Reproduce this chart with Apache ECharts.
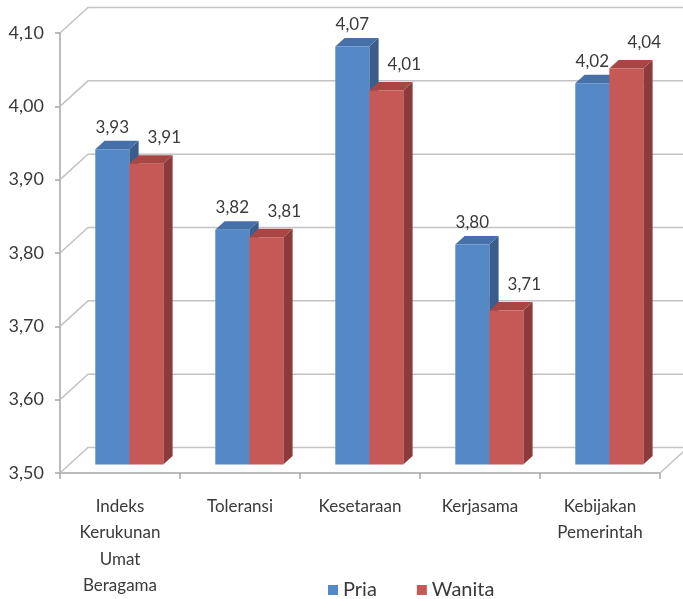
<!DOCTYPE html>
<html>
<head>
<meta charset="utf-8">
<script src="https://cdn.jsdelivr.net/npm/echarts@6/dist/echarts.min.js"></script>
<style>
  html, body { margin: 0; padding: 0; background: #fff; }
  #chart { width: 683px; height: 599px; }
</style>
</head>
<body>
<div id="chart"></div>
<script>
// Survey indices by gender
const categories = ['Indeks\nKerukunan\nUmat\nBeragama', 'Toleransi', 'Kesetaraan', 'Kerjasama', 'Kebijakan\nPemerintah'];
const pria = [3.93, 3.82, 4.07, 3.80, 4.02];
const wanita = [3.91, 3.81, 4.01, 3.71, 4.04];
const yTicks = [3.5, 3.6, 3.7, 3.8, 3.9, 4.0, 4.1];

const FONT = 'Lato, "Open Sans", sans-serif';
const TEXT = '#3a3a3a';
const GRID = '#c3c3c3';
const AXIS = '#a6a6a6';

// oblique depth of the floor / back wall
const DEPTH_X = 28, DEPTH_Y = -25.5;
// bar block: front plane offset and its own depth
const FRONT_X = 9.3, FRONT_Y = -8.5;
const BAR_DX = 9.3, BAR_DY = -8.5;
const BAR_W = 34;

const fmt = v => v.toFixed(2).replace('.', ',');

const palettes = [
  { front: '#5588c6', side: '#3b5d8c', top: '#4670a8', labelShift: 0, labelUp: 22 },
  { front: '#c65855', side: '#8b3c3a', top: '#a84643', labelShift: 18, labelUp: 26 }
];

function wallItem(params, api) {
  const v = api.value(0);
  const band = api.size([1, 0])[0];
  const left = api.coord([0, v])[0] - band / 2;
  const right = api.coord([categories.length - 1, v])[0] + band / 2;
  const y = api.coord([0, v])[1];
  const style = { stroke: GRID, lineWidth: 1.5, fill: null };
  const children = [{
    type: 'polyline',
    shape: { points: [[left, y], [left + DEPTH_X, y + DEPTH_Y], [right + DEPTH_X, y + DEPTH_Y]] },
    style: style
  }];
  if (params.dataIndex === 0) {
    children.push({
      type: 'line',
      shape: { x1: right, y1: y, x2: right + DEPTH_X, y2: y + DEPTH_Y },
      style: style
    });
  }
  return { type: 'group', children: children };
}

function barRenderer(seriesIdx) {
  const pal = palettes[seriesIdx];
  return function (params, api) {
    const i = api.value(0);
    const v = api.value(1);
    const base = api.coord([i, yTicks[0]]);
    const topPt = api.coord([i, v]);
    const x0 = base[0] + FRONT_X - BAR_W + seriesIdx * BAR_W;
    const x1 = x0 + BAR_W;
    const yb = base[1] + FRONT_Y;
    const yt = topPt[1] + FRONT_Y;
    return {
      type: 'group',
      children: [
        { type: 'polygon',
          shape: { points: [[x1, yt], [x1 + BAR_DX, yt + BAR_DY], [x1 + BAR_DX, yb + BAR_DY], [x1, yb]] },
          style: { fill: pal.side } },
        { type: 'polygon',
          shape: { points: [[x0, yt], [x0 + BAR_DX, yt + BAR_DY], [x1 + BAR_DX, yt + BAR_DY], [x1, yt]] },
          style: { fill: pal.top } },
        { type: 'rect',
          shape: { x: x0, y: yt, width: BAR_W, height: yb - yt },
          style: { fill: pal.front } },
        { type: 'text',
          x: (x0 + x1) / 2 + pal.labelShift, y: yt - pal.labelUp,
          style: { text: fmt(v), fill: TEXT, font: '17px ' + FONT, align: 'center', verticalAlign: 'middle' } }
      ]
    };
  };
}

const chart = echarts.init(document.getElementById('chart'), null, { renderer: 'canvas' });
chart.setOption({
  animation: false,
  backgroundColor: '#fff',
  grid: { left: 60, right: 23, top: 33, bottom: 123, containLabel: false },
  legend: {
    data: ['Pria', 'Wanita'],
    left: 323, top: 575,
    icon: 'rect', itemWidth: 10, itemHeight: 10, itemGap: 40,
    textStyle: { fontFamily: FONT, fontSize: 20, color: TEXT }
  },
  xAxis: {
    type: 'category',
    data: categories,
    boundaryGap: true,
    axisLine: { show: true, lineStyle: { color: AXIS, width: 1.5 } },
    axisTick: { show: true, length: 6, interval: 0, lineStyle: { color: AXIS, width: 1.5 } },
    axisLabel: { interval: 0, margin: 20, fontFamily: FONT, fontSize: 17, color: TEXT, lineHeight: 26.5, align: 'center' },
    splitLine: { show: false }
  },
  yAxis: {
    type: 'value',
    min: 3.5, max: 4.1, interval: 0.1,
    axisLine: { show: true, lineStyle: { color: AXIS, width: 1.5 } },
    axisTick: { show: true, length: 5, lineStyle: { color: AXIS, width: 1.5 } },
    axisLabel: { margin: 16, fontFamily: FONT, fontSize: 18, color: TEXT, formatter: v => fmt(v) },
    splitLine: { show: false }
  },
  series: [
    {
      type: 'custom', name: 'wall', silent: true, z: 1,
      data: yTicks.map(v => [v]),
      encode: { y: 0 },
      renderItem: wallItem
    },
    {
      type: 'custom', name: 'Pria', z: 2,
      itemStyle: { color: palettes[0].front },
      data: pria.map((v, i) => [i, v]),
      encode: { x: 0, y: 1 },
      renderItem: barRenderer(0)
    },
    {
      type: 'custom', name: 'Wanita', z: 3,
      itemStyle: { color: palettes[1].front },
      data: wanita.map((v, i) => [i, v]),
      encode: { x: 0, y: 1 },
      renderItem: barRenderer(1)
    }
  ]
});
</script>
</body>
</html>
